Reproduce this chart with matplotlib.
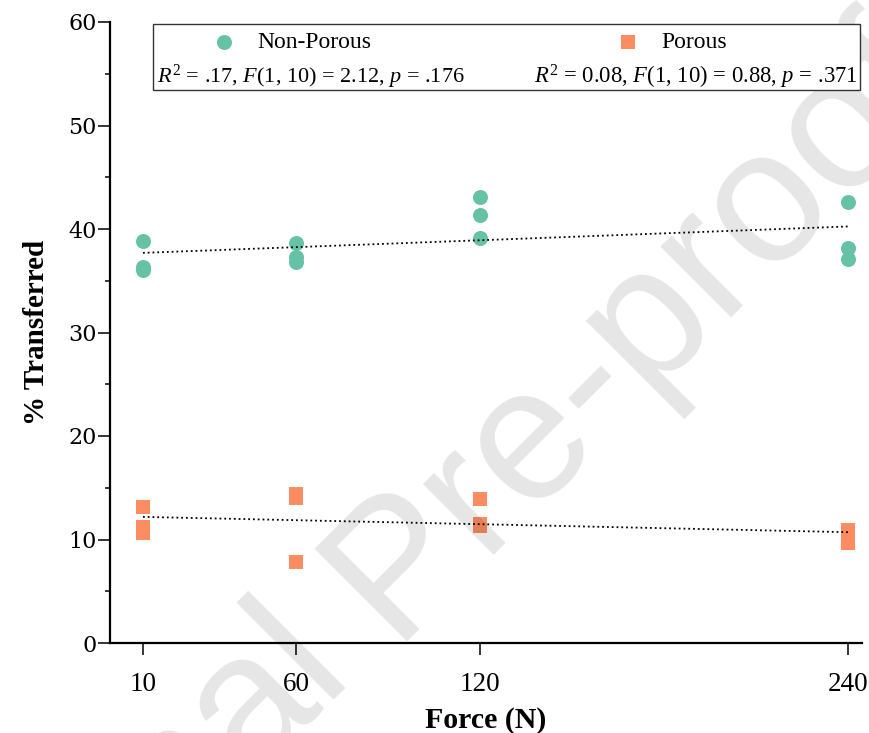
import numpy as np
import matplotlib.pyplot as plt
from matplotlib.patches import Rectangle

# data
force = [10, 60, 120, 240]
non_porous = [[38.8, 36.3, 36.0],
              [38.6, 37.3, 36.8],
              [43.1, 41.4, 39.1],
              [42.6, 38.2, 37.1]]
porous = [[13.1, 11.2, 10.6],
          [14.4, 14.0, 7.8],
          [13.9, 11.5, 11.3],
          [10.9, 10.3, 9.7]]
stats_np = r'$R^2$ = .17, $F$(1, 10) = 2.12, $p$ = .176'
stats_p = r'$R^2$ = 0.08, $F$(1, 10) = 0.88, $p$ = .371'

green = '#66c2a5'
orange = '#fc8d62'

plt.rcParams['font.family'] = 'Liberation Serif'
plt.rcParams['mathtext.fontset'] = 'custom'
plt.rcParams['mathtext.rm'] = 'Liberation Serif'
plt.rcParams['mathtext.it'] = 'Liberation Serif:italic'


def long_form(groups):
    xs = np.repeat(force, [len(g) for g in groups]).astype(float)
    ys = np.concatenate(groups)
    return xs, ys


fig = plt.figure(figsize=(8.7, 7.33), dpi=100)
ax = fig.add_axes([110 / 870, 90 / 733, 752 / 870, 621 / 733])

x_np, y_np = long_form(non_porous)
x_p, y_p = long_form(porous)

h1 = ax.scatter(x_np, y_np, s=10.8 ** 2, marker='o', color=green, linewidths=0, zorder=2, label='Non-Porous')
h2 = ax.scatter(x_p, y_p, s=10 ** 2, marker='s', color=orange, linewidths=0, zorder=2, label='Porous')

# linear fits
xf = np.array([force[0], force[-1]], dtype=float)
for xs, ys in [(x_np, y_np), (x_p, y_p)]:
    k, b = np.polyfit(xs, ys, 1)
    ax.plot(xf, k * xf + b, ':', color='black', lw=1.3, zorder=3)

ax.set_xlim(-0.75, 244.5)
ax.set_ylim(0, 60)
ax.set_xticks(force)
ax.set_yticks(np.arange(0, 61, 10))
ax.set_yticks(np.arange(5, 60, 10), minor=True)

for s in ['top', 'right']:
    ax.spines[s].set_visible(False)
for s in ['left', 'bottom']:
    ax.spines[s].set_linewidth(1.6)

ax.tick_params(axis='both', which='major', direction='out', length=8.5, width=1.1)
ax.tick_params(axis='y', which='minor', direction='out', length=3.5, width=1.1)
ax.tick_params(axis='x', labelsize=19.5, pad=12.5)
ax.tick_params(axis='y', pad=1)
for lab in ax.get_yticklabels():
    lab.set_fontfamily('DejaVu Serif')
    lab.set_fontsize(16)

ax.set_xlabel('Force (N)', fontsize=21.5, fontweight='bold', labelpad=7)
ax.set_ylabel('% Transferred', fontsize=21, fontweight='bold', labelpad=13)

# legend box with the regression statistics
box = Rectangle((0.057, 0.890), 0.940, 0.107, transform=ax.transAxes, facecolor='white',
                edgecolor='#333333', lw=1.0, zorder=4, clip_on=False)
ax.add_patch(box)
leg = ax.legend(handles=[h1, h2], loc='upper left', bbox_to_anchor=(0.136, 0.984), ncol=2,
                frameon=False, handlelength=1.0, handletextpad=0.9, columnspacing=10.4,
                borderpad=0, borderaxespad=0, prop={'family': 'Liberation Serif', 'size': 17})
leg.set_zorder(5)
ax.text(0.0625, 0.911, stats_np, transform=ax.transAxes, fontsize=16, va='center', ha='left', zorder=5)
ax.text(0.9947, 0.911, stats_p, transform=ax.transAxes, fontsize=16.3, va='center', ha='right', zorder=5)

# watermark
wx, wy = 392 / 870, 1 - 641 / 733
for txt, side in [('Pre-proof', 'left'), ('Journal ', 'right')]:
    ax.text(wx, wy, txt, transform=fig.transFigure, rotation=45, rotation_mode='anchor',
            ha=side, va='baseline', fontsize=136, family='Liberation Sans', color='black',
            alpha=0.1, zorder=3.5, clip_on=False)

fig.savefig('out.png', dpi=100)
